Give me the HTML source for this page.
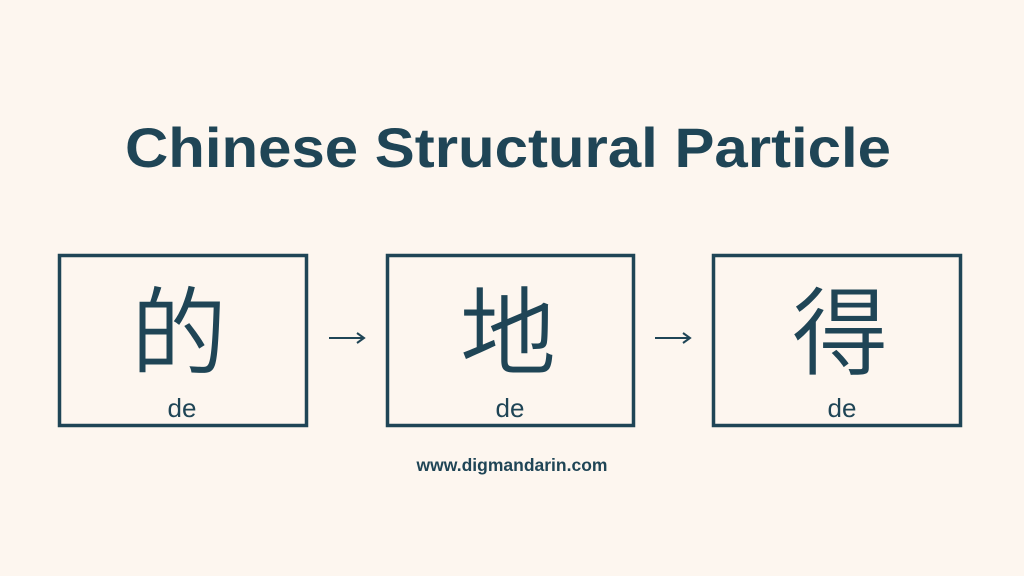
<!DOCTYPE html>
<html><head><meta charset="utf-8"><style>
html,body{margin:0;padding:0;background:#fdf6ef;}
svg{display:block}
</style></head><body>
<svg width="1024" height="576" viewBox="0 0 1024 576" xmlns="http://www.w3.org/2000/svg">
<rect width="1024" height="576" fill="#fdf6ef"/>
<g fill="#1f4556" font-family="'Liberation Sans','Noto Sans CJK SC',sans-serif">
<text x="125" y="167" font-size="56" font-weight="bold" textLength="766" lengthAdjust="spacingAndGlyphs">Chinese Structural  Particle</text>
<g fill="none" stroke="#1f4556" stroke-width="3.5">
<rect x="59.5" y="255.5" width="247" height="170"/>
<rect x="387.5" y="255.5" width="246" height="170"/>
<rect x="713.5" y="255.5" width="247" height="170"/>
<line x1="329" y1="338" x2="363" y2="338" stroke-width="2"/>
<polyline points="357,333 364,338 357,343" stroke-width="2"/>
<line x1="655" y1="338" x2="689" y2="338" stroke-width="2"/>
<polyline points="683,333 690,338 683,343" stroke-width="2"/>
</g>
<g font-size="96" font-weight="350" text-anchor="middle" font-family="'Noto Sans CJK SC',sans-serif">
<text x="179" y="367">的</text>
<text x="508" y="367">地</text>
<text x="840" y="367">得</text>
</g>
<g font-size="26" text-anchor="middle">
<text x="182" y="417">de</text>
<text x="510" y="417">de</text>
<text x="842" y="417">de</text>
</g>
<text x="512" y="471" font-size="17.5" font-weight="bold" text-anchor="middle">www.digmandarin.com</text>
</g>
</svg>
</body></html>
